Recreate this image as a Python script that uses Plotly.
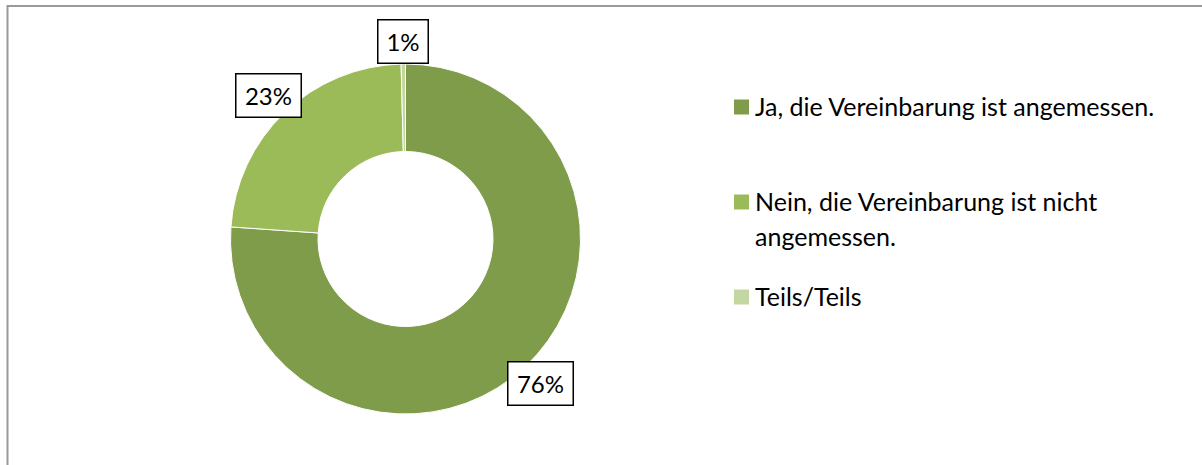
import math
import plotly.graph_objects as go

# answers, clockwise from 12 o'clock
categories = ["Ja, die Vereinbarung ist angemessen.",
              "Nein, die Vereinbarung ist nicht angemessen.",
              "Teils/Teils"]
legendLines = [["Ja, die Vereinbarung ist angemessen."],
               ["Nein, die Vereinbarung ist nicht", "angemessen."],
               ["Teils/Teils"]]
shares = [76.1, 23.5, 0.4]
shareLabels = ["76%", "23%", "1%"]
colors = ["#7f9c4a", "#9bbb59", "#c4d7a0"]

W, H = 1202, 465
FONT = "Lato"
# donut geometry in px
cx, cy, R = 405.5, 239, 175

fig = go.Figure()
fig.add_trace(go.Pie(
    labels=categories, values=shares, sort=False, direction="clockwise", rotation=0,
    hole=0.5, textinfo="none", hoverinfo="label+percent", showlegend=False,
    marker=dict(colors=colors, line=dict(color="white", width=1)),
    domain=dict(x=[(cx - R) / W, (cx + R) / W], y=[(H - cy - R) / H, (H - cy + R) / H]),
))

annotations = []
# data labels outside, boxed, placed at the slice mid-angle
total = sum(shares)
start = 0
for v, t in zip(shares, shareLabels):
    mid = (start + v / 2) / total * 2 * math.pi
    start += v
    r = 198
    px = cx + r * math.sin(mid)
    py = cy - r * math.cos(mid)
    annotations.append(dict(
        x=px / W, y=1 - py / H, xref="paper", yref="paper", text=t, showarrow=False,
        font=dict(family=FONT, size=24, color="black"),
        bgcolor="white", bordercolor="black", borderwidth=1.5, borderpad=4,
        width=15 * len(t) + 11, height=34,
        xanchor="center", yanchor="middle"))

# legend drawn by hand to get Excel's spacing
legY = [107, 202, 297]
shapes = []
for lines, y, col in zip(legendLines, legY, colors):
    shapes.append(dict(type="rect", xref="paper", yref="paper",
                       x0=734 / W, x1=749 / W, y0=1 - (y + 7.5) / H, y1=1 - (y - 7.5) / H,
                       fillcolor=col, line=dict(width=0)))
    for i, line in enumerate(lines):
        annotations.append(dict(
            x=753 / W, y=1 - (y - 1 + 35 * i) / H, xref="paper", yref="paper", text=line,
            showarrow=False, font=dict(family=FONT, size=25, color="black"),
            xanchor="left", yanchor="middle"))

# chart area border (only top/left visible)
shapes.append(dict(type="rect", xref="paper", yref="paper",
                   x0=7.5 / W, x1=1.05, y0=-0.05, y1=1 - 6 / H,
                   line=dict(color="#9a9a9a", width=2)))

fig.update_layout(
    width=W, height=H, margin=dict(l=0, r=0, t=0, b=0),
    paper_bgcolor="white", plot_bgcolor="white",
    annotations=annotations, shapes=shapes,
    font=dict(family=FONT),
)
fig.write_html("out.html", config={"displayModeBar": False},
               post_script="document.body.style.margin='0px';")
